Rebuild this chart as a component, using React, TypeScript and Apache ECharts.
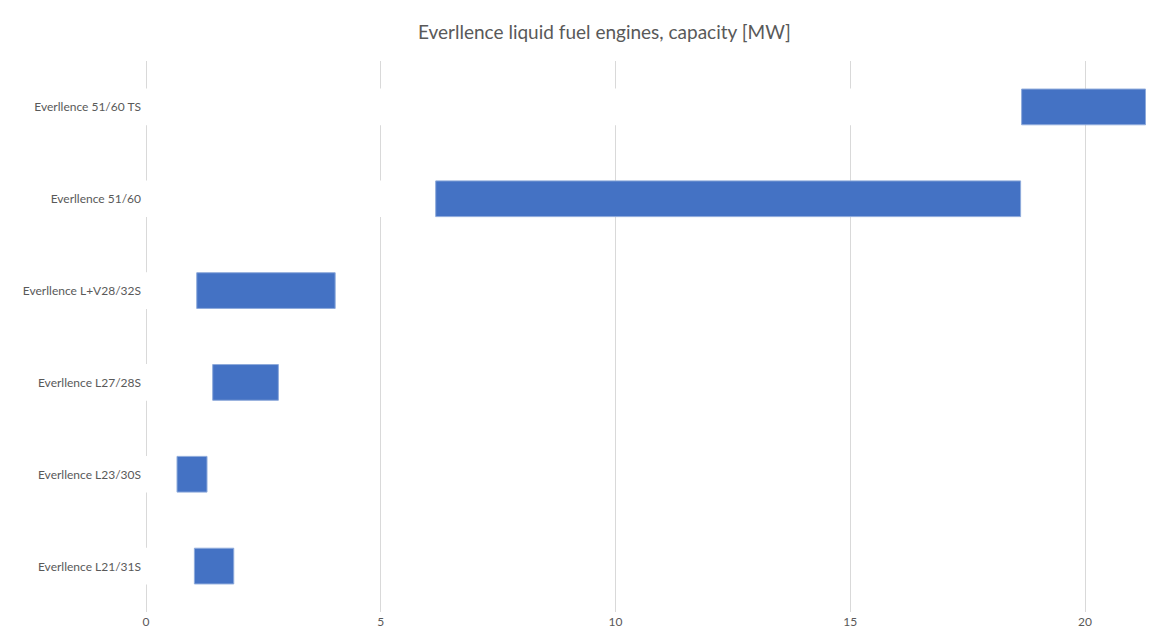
import React, { useEffect, useRef } from "react";
import * as echarts from "echarts";

const categories = [
  "Everllence L21/31S",
  "Everllence L23/30S",
  "Everllence L27/28S",
  "Everllence L+V28/32S",
  "Everllence 51/60",
  "Everllence 51/60 TS",
];
const minCapacity = [1.02, 0.65, 1.41, 1.07, 6.16, 18.64];
const maxCapacity = [1.88, 1.31, 2.83, 4.04, 18.64, 21.3];
const xTicks = [0, 5, 10, 15, 20];

export default function App() {
  const ref = useRef<HTMLDivElement>(null);
  useEffect(() => {
    if (!ref.current) return;
    const chart = echarts.init(ref.current, undefined, { renderer: "svg" });
    const range = maxCapacity.map((v, i) => +(v - minCapacity[i]).toFixed(3));
    chart.setOption({
      animation: false,
      backgroundColor: "#ffffff",
      textStyle: { fontFamily: "Lato, 'Open Sans', sans-serif" },
      title: {
        text: "Everllence liquid fuel engines, capacity [MW]",
        left: 413,
        top: 17,
        textStyle: {
          fontSize: 19,
          fontWeight: "normal",
          color: "#595959",
          fontFamily: "Lato, 'Open Sans', sans-serif",
        },
      },
      grid: { left: 146, right: 25, top: 61, bottom: 28, containLabel: false },
      xAxis: {
        type: "value",
        min: xTicks[0],
        max: 21.3,
        interval: 5,
        axisLine: { show: false },
        axisTick: { show: false },
        axisLabel: {
          color: "#595959",
          fontSize: 12,
          margin: 3,
          showMaxLabel: false,
          formatter: (v: number) => (xTicks.includes(v) ? String(v) : ""),
        },
        splitLine: {
          show: true,
          showMaxLine: false,
          lineStyle: { color: "#d9d9d9", width: 1 },
        },
      },
      yAxis: {
        type: "category",
        data: categories,
        axisLine: { show: false },
        axisTick: { show: false },
        splitLine: { show: false },
        axisLabel: { color: "#595959", fontSize: 12, margin: 5 },
      },
      series: [
        {
          name: "min",
          type: "bar",
          stack: "cap",
          data: minCapacity,
          barWidth: "40%",
          itemStyle: { color: "#ffffff" },
          silent: true,
        },
        {
          name: "range",
          type: "bar",
          stack: "cap",
          data: range,
          barWidth: "40%",
          itemStyle: { color: "#4472C4", borderColor: "#8eaadb", borderWidth: 1 },
        },
      ],
    });
    return () => chart.dispose();
  }, []);
  return (
    <div
      ref={ref}
      style={{ position: "absolute", left: 0, top: 0, width: 1171, height: 640 }}
    />
  );
}
